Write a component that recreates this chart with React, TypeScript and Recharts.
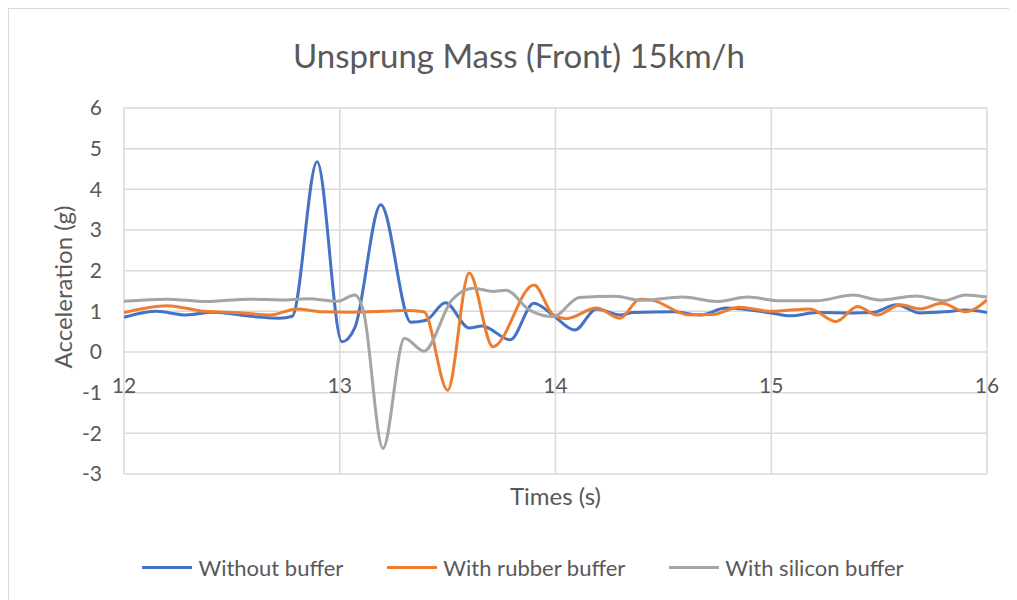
import React from 'react';
import { LineChart, Line, XAxis, YAxis, CartesianGrid, Legend } from 'recharts';

// ---- data ----
const withoutBufferTimes = [12.0, 12.1, 12.15, 12.29, 12.41, 12.6, 12.72, 12.78, 12.895, 13.01, 13.07, 13.19, 13.33, 13.4, 13.49, 13.6, 13.66, 13.79, 13.9, 13.99, 14.09, 14.19, 14.3, 14.36, 14.55, 14.67, 14.79, 15.0, 15.09, 15.21, 15.38, 15.47, 15.58, 15.69, 15.81, 15.9, 16.0];
const withoutBufferValues = [0.85, 0.98, 1.0, 0.91, 0.98, 0.87, 0.83, 0.88, 4.68, 0.25, 0.6, 3.62, 0.73, 0.78, 1.21, 0.59, 0.64, 0.3, 1.2, 0.9, 0.54, 1.06, 0.91, 0.97, 0.99, 0.91, 1.08, 0.96, 0.89, 0.97, 0.96, 0.97, 1.16, 0.96, 0.99, 1.03, 0.97];

const rubberBufferTimes = [12.0, 12.2, 12.37, 12.55, 12.68, 12.8, 12.91, 13.05, 13.2, 13.3, 13.39, 13.5, 13.6, 13.71, 13.9, 13.99, 14.05, 14.19, 14.3, 14.39, 14.45, 14.62, 14.73, 14.85, 15.0, 15.18, 15.3, 15.4, 15.49, 15.6, 15.69, 15.79, 15.9, 16.0];
const rubberBufferValues = [0.97, 1.14, 1.0, 0.96, 0.91, 1.06, 0.99, 0.98, 1.0, 1.02, 0.99, -0.94, 1.94, 0.13, 1.65, 0.91, 0.82, 1.08, 0.83, 1.3, 1.27, 0.91, 0.92, 1.1, 1.0, 1.06, 0.75, 1.12, 0.91, 1.16, 1.06, 1.2, 0.99, 1.28];

const siliconBufferTimes = [12.0, 12.2, 12.38, 12.58, 12.75, 12.85, 12.99, 13.07, 13.11, 13.2, 13.3, 13.39, 13.52, 13.62, 13.71, 13.77, 13.88, 13.99, 14.11, 14.28, 14.39, 14.59, 14.75, 14.89, 15.04, 15.21, 15.38, 15.5, 15.67, 15.8, 15.9, 16.0];
const siliconBufferValues = [1.25, 1.3, 1.24, 1.3, 1.28, 1.31, 1.25, 1.4, 1.0, -2.37, 0.34, 0.02, 1.28, 1.57, 1.49, 1.52, 1.03, 0.87, 1.34, 1.37, 1.27, 1.35, 1.24, 1.35, 1.26, 1.26, 1.4, 1.28, 1.38, 1.26, 1.4, 1.35];

const xTicks = [12, 13, 14, 15, 16];
const yTicks = [-3, -2, -1, 0, 1, 2, 3, 4, 5, 6];

const seriesNames = ['Without buffer', 'With rubber buffer', 'With silicon buffer'];
const seriesColors = ['#4472C4', '#ED7D31', '#A5A5A5'];

const toPoints = (t: number[], v: number[]) => t.map((time, i) => ({ t: time, v: v[i] }));

const series = [
  toPoints(withoutBufferTimes, withoutBufferValues),
  toPoints(rubberBufferTimes, rubberBufferValues),
  toPoints(siliconBufferTimes, siliconBufferValues),
];

const FONT = 'Lato, "Open Sans", sans-serif';
const TEXT = '#595959';
const GRID = '#d9d9d9';

const CHART_W = 1008;
const CHART_H = 591;
const MARGIN = { top: 99, right: 30, bottom: 21, left: 20 };
const PLOT_H = 366;

const XTick = (props: any) => {
  const { x, y, payload } = props;
  // labels sit just below the y = 0 line
  const zeroY = y - (PLOT_H * 3) / 9;
  return (
    <text x={x} y={zeroY + 32} textAnchor="middle" dominantBaseline="central" fill={TEXT} fontSize={21} fontFamily={FONT}>
      {payload.value}
    </text>
  );
};

const LegendContent = () => (
  <div
    style={{
      display: 'flex',
      justifyContent: 'center',
      alignItems: 'center',
      height: 24,
      paddingLeft: 30,
      boxSizing: 'border-box',
      fontFamily: FONT,
      fontSize: 22,
      color: TEXT,
    }}
  >
    {seriesNames.map((name, i) => (
      <div key={name} style={{ display: 'flex', alignItems: 'center', marginRight: i < seriesNames.length - 1 ? 44 : 0 }}>
        <div style={{ width: 50, height: 3, background: seriesColors[i], marginRight: 6 }} />
        <span>{name}</span>
      </div>
    ))}
  </div>
);

export default function App() {
  return (
    <div
      style={{
        position: 'relative',
        width: 1009,
        height: 592,
        borderTop: `1px solid ${GRID}`,
        borderLeft: `1px solid ${GRID}`,
        background: '#fff',
      }}
    >
      <div
        style={{
          position: 'absolute',
          left: 0,
          top: 29,
          width: 1020,
          textAlign: 'center',
          lineHeight: '34px',
          fontFamily: FONT,
          fontSize: 33,
          color: TEXT,
          zIndex: 2,
        }}
      >
        Unsprung Mass (Front) 15km/h
      </div>
      <LineChart width={CHART_W} height={CHART_H} margin={MARGIN}>
        <CartesianGrid stroke={GRID} strokeWidth={1.5} horizontal vertical />
        <XAxis
          type="number"
          dataKey="t"
          domain={[12, 16]}
          ticks={xTicks}
          allowDataOverflow
          axisLine={false}
          tickLine={false}
          tickSize={0}
          tickMargin={0}
          height={81}
          tick={<XTick />}
          label={{
            content: (p: any) => {
              const vb = p.viewBox;
              return (
                <text x={vb.x + vb.width / 2} y={vb.y + 21} textAnchor="middle" dominantBaseline="central" fill={TEXT} fontSize={24} fontFamily={FONT}>
                  Times (s)
                </text>
              );
            },
          }}
        />
        <YAxis
          type="number"
          domain={[-3, 6]}
          ticks={yTicks}
          allowDataOverflow
          axisLine={false}
          tickLine={false}
          tickSize={0}
          tickMargin={22}
          width={95}
          tick={{ fill: TEXT, fontSize: 21, fontFamily: FONT }}
          label={{
            content: (p: any) => {
              const vb = p.viewBox;
              const cx = vb.x + 33;
              const cy = vb.y + vb.height / 2 - 4;
              return (
                <text x={cx} y={cy} transform={`rotate(-90, ${cx}, ${cy})`} textAnchor="middle" dominantBaseline="central" fill={TEXT} fontSize={24} fontFamily={FONT}>
                  Acceleration (g)
                </text>
              );
            },
          }}
        />
        <Legend verticalAlign="bottom" height={24} content={<LegendContent />} />
        {series.map((pts, i) => (
          <Line
            key={seriesNames[i]}
            data={pts}
            dataKey="v"
            name={seriesNames[i]}
            type="monotone"
            stroke={seriesColors[i]}
            strokeWidth={3}
            dot={false}
            activeDot={false}
            isAnimationActive={false}
          />
        ))}
      </LineChart>
    </div>
  );
}
